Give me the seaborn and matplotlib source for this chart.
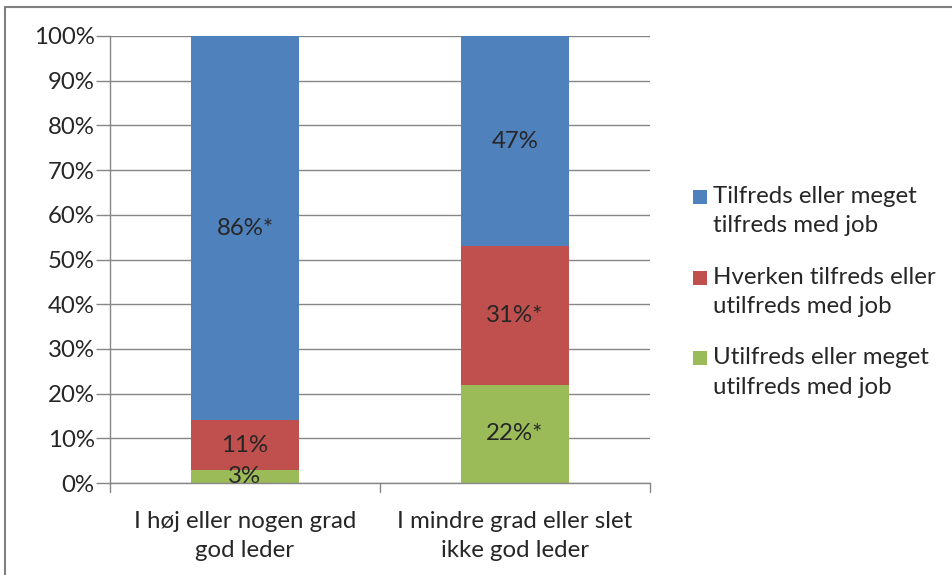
import matplotlib
matplotlib.use("Agg")
import matplotlib.pyplot as plt
from matplotlib.patches import Rectangle
from matplotlib.lines import Line2D
import seaborn as sns
import pandas as pd

categories = ["I høj eller nogen grad\ngod leder", "I mindre grad eller slet\nikke god leder"]
series_names = ["Tilfreds eller meget\ntilfreds med job",
                "Hverken tilfreds eller\nutilfreds med job",
                "Utilfreds eller meget\nutilfreds med job"]
utilfreds = [3, 22]
hverken = [11, 31]
tilfreds = [86, 47]
labels_utilfreds = ["3%", "22%*"]
labels_hverken = ["11%", "31%*"]
labels_tilfreds = ["86%*", "47%"]
yticks = [0, 10, 20, 30, 40, 50, 60, 70, 80, 90, 100]
ytick_labels = [f"{v}%" for v in yticks]

colors = {"blue": "#4F81BD", "red": "#C0504D", "green": "#9BBB59"}

sns.set_theme(style="white")
FONT = "Lato"
plt.rcParams["font.family"] = [FONT, "DejaVu Sans"]
FS = 17.3
TXT = "#262626"

fig = plt.figure(figsize=(9.53, 5.75), dpi=100)
W, H = 953, 575
ax = fig.add_axes([110 / W, 1 - 483 / H, (650 - 110) / W, (483 - 36) / H])

df = pd.DataFrame({"cat": categories, "utilfreds": utilfreds,
                   "hverken": hverken, "tilfreds": tilfreds})
bottom2 = [a + b for a, b in zip(utilfreds, hverken)]

sns.barplot(data=df, x="cat", y="utilfreds", color=colors["green"], width=0.4,
            saturation=1, ax=ax, linewidth=0)
sns.barplot(data=df, x="cat", y="hverken", color=colors["red"], width=0.4,
            saturation=1, ax=ax, linewidth=0, bottom=utilfreds)
sns.barplot(data=df, x="cat", y="tilfreds", color=colors["blue"], width=0.4,
            saturation=1, ax=ax, linewidth=0, bottom=bottom2)

for i in range(len(categories)):
    segs = [(0, utilfreds[i], labels_utilfreds[i]),
            (utilfreds[i], hverken[i], labels_hverken[i]),
            (bottom2[i], tilfreds[i], labels_tilfreds[i])]
    for b, h, lab in segs:
        ax.text(i, b + h / 2, lab, ha="center", va="center", fontsize=FS, color=TXT)

ax.set_xlim(-0.5, 1.5)
ax.set_ylim(0, 100)
ax.set_yticks(yticks)
ax.set_yticklabels(ytick_labels, fontsize=FS, color=TXT)
ax.set_xticks([0, 1])
ax.set_xticklabels(categories, fontsize=FS, color=TXT, linespacing=1.5)
ax.set_xlabel("")
ax.set_ylabel("")
ax.yaxis.grid(True, color="#868686", linewidth=1)
ax.set_axisbelow(True)
for s in ["top", "right"]:
    ax.spines[s].set_visible(False)
for s in ["left", "bottom"]:
    ax.spines[s].set_color("#868686")
    ax.spines[s].set_linewidth(1)
ax.tick_params(axis="y", length=10, width=1, color="#868686", pad=1, left=True)
ax.tick_params(axis="x", length=0, pad=20)
# x-axis category boundary ticks
for xb in [-0.5, 0.5, 1.5]:
    ax.add_line(Line2D([xb, xb], [0, -9 / 4.47], color="#868686", linewidth=1,
                       clip_on=False))

# manual legend
leg = [(series_names[0], colors["blue"], 197),
       (series_names[1], colors["red"], 278),
       (series_names[2], colors["green"], 358)]
for lab, col, ytop in leg:
    fig.patches.append(Rectangle((693 / W, 1 - (ytop + 7) / H), 14 / W, 14 / H,
                                 transform=fig.transFigure, facecolor=col,
                                 edgecolor="none"))
    fig.text(713 / W, 1 - (ytop - 11) / H, lab, ha="left", va="top",
             fontsize=FS, color=TXT, linespacing=1.5)

# outer frame
fig.add_artist(Line2D([5 / W, 1], [1 - 6.5 / H, 1 - 6.5 / H], color="#7f7f7f",
                      linewidth=1.5, transform=fig.transFigure))
fig.add_artist(Line2D([5 / W, 5 / W], [0, 1 - 6.5 / H], color="#7f7f7f",
                      linewidth=1.5, transform=fig.transFigure))

fig.savefig("out.png", dpi=100)
